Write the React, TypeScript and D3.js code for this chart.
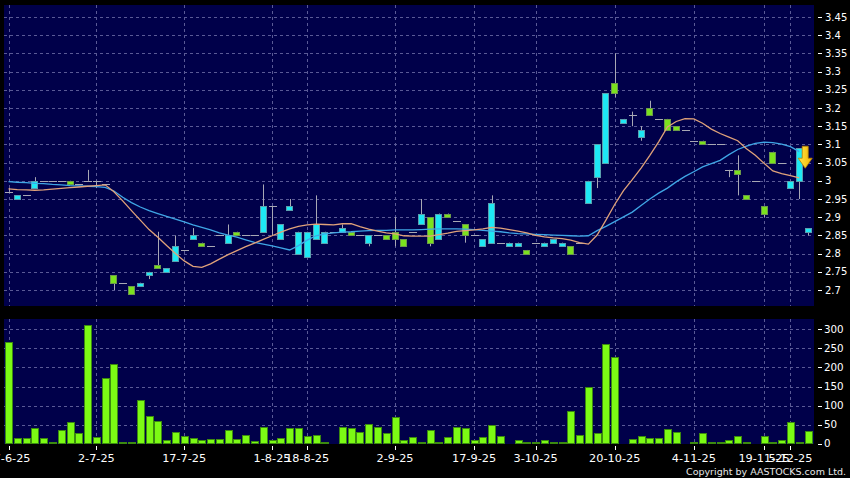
import React from 'react';
import * as d3 from 'd3';

// ---- data ----
const tickLabels = ["17-6-25", "2-7-25", "17-7-25", "1-8-25", "18-8-25", "2-9-25", "17-9-25", "3-10-25", "20-10-25", "4-11-25", "19-11-25", "5-12-25"];
const tickIndex = [1, 11, 21, 31, 35, 45, 54, 61, 70, 79, 87, 90];
const priceTicks = [2.7, 2.75, 2.8, 2.85, 2.9, 2.95, 3.0, 3.05, 3.1, 3.15, 3.2, 3.25, 3.3, 3.35, 3.4, 3.45];
const priceTickLabels = ["2.7", "2.75", "2.8", "2.85", "2.9", "2.95", "3", "3.05", "3.1", "3.15", "3.2", "3.25", "3.3", "3.35", "3.4", "3.45"];
const volumeTicks = [0, 50, 100, 150, 200, 250, 300];

const opens = [
  2.97, 2.95, 2.96, 2.98, 3.00, 3.00, 3.00, 3.00, 2.99, 3.00,
  3.00, 2.99, 2.74, 2.72, 2.71, 2.71, 2.74, 2.77, 2.75, 2.78,
  2.81, 2.84, 2.83, 2.82, 2.85, 2.83, 2.86, 2.85, 2.85, 2.86,
  2.93, 2.84, 2.92, 2.80, 2.79, 2.84, 2.83, 2.86, 2.86, 2.86,
  2.85, 2.83, 2.85, 2.85, 2.86, 2.84, 2.86, 2.88, 2.90, 2.84,
  2.91, 2.89, 2.88, 2.85, 2.82, 2.83, 2.83, 2.82, 2.82, 2.81,
  2.83, 2.82, 2.83, 2.82, 2.82, 2.83, 2.94, 3.01, 3.05, 3.27,
  3.16, 3.18, 3.12, 3.20, 3.17, 3.17, 3.15, 3.14, 3.11, 3.11,
  3.10, 3.10, 3.03, 3.03, 2.96, 3.00, 2.93, 3.08, 3.05, 2.98,
  3.00, 2.86];
const highs = [
  2.98, 2.96, 2.96, 3.01, 3.00, 3.00, 3.00, 3.00, 2.99, 3.03,
  3.00, 2.99, 2.74, 2.72, 2.71, 2.72, 2.75, 2.86, 2.76, 2.85,
  2.81, 2.87, 2.83, 2.82, 2.85, 2.88, 2.86, 2.85, 2.85, 2.99,
  2.93, 2.88, 2.95, 2.86, 2.86, 2.96, 2.86, 2.86, 2.88, 2.86,
  2.85, 2.85, 2.85, 2.85, 2.90, 2.84, 2.86, 2.95, 2.90, 2.91,
  2.91, 2.89, 2.88, 2.85, 2.84, 2.96, 2.83, 2.83, 2.83, 2.81,
  2.83, 2.83, 2.84, 2.83, 2.82, 2.83, 3.00, 3.10, 3.24, 3.35,
  3.17, 3.19, 3.15, 3.22, 3.17, 3.17, 3.15, 3.14, 3.11, 3.11,
  3.10, 3.10, 3.03, 3.07, 2.96, 3.00, 2.93, 3.08, 3.05, 3.00,
  3.09, 2.87];
const lows = [
  2.97, 2.95, 2.96, 2.98, 3.00, 3.00, 3.00, 2.99, 2.99, 3.00,
  2.98, 2.99, 2.70, 2.72, 2.69, 2.71, 2.73, 2.76, 2.75, 2.78,
  2.81, 2.84, 2.82, 2.82, 2.85, 2.83, 2.85, 2.85, 2.85, 2.86,
  2.85, 2.84, 2.92, 2.80, 2.79, 2.84, 2.83, 2.86, 2.86, 2.85,
  2.85, 2.82, 2.85, 2.84, 2.82, 2.82, 2.86, 2.88, 2.82, 2.84,
  2.90, 2.89, 2.83, 2.85, 2.82, 2.83, 2.83, 2.82, 2.82, 2.80,
  2.83, 2.82, 2.83, 2.82, 2.80, 2.83, 2.94, 2.98, 3.05, 3.23,
  3.16, 3.15, 3.11, 3.18, 3.17, 3.14, 3.14, 3.14, 3.11, 3.10,
  3.10, 3.10, 3.01, 2.96, 2.95, 3.00, 2.90, 3.05, 3.05, 2.98,
  2.95, 2.85];
const closes = [
  2.97, 2.96, 2.96, 3.00, 3.00, 3.00, 3.00, 2.99, 2.99, 3.00,
  3.00, 2.99, 2.72, 2.72, 2.69, 2.72, 2.75, 2.76, 2.76, 2.82,
  2.81, 2.85, 2.82, 2.82, 2.85, 2.85, 2.85, 2.85, 2.85, 2.93,
  2.93, 2.88, 2.93, 2.86, 2.86, 2.88, 2.86, 2.86, 2.87, 2.85,
  2.85, 2.85, 2.85, 2.84, 2.84, 2.82, 2.86, 2.91, 2.83, 2.91,
  2.90, 2.89, 2.85, 2.85, 2.84, 2.94, 2.83, 2.83, 2.83, 2.80,
  2.83, 2.83, 2.84, 2.83, 2.80, 2.83, 3.00, 3.10, 3.24, 3.24,
  3.17, 3.18, 3.14, 3.18, 3.17, 3.14, 3.14, 3.14, 3.11, 3.10,
  3.10, 3.10, 3.03, 3.02, 2.95, 3.00, 2.91, 3.05, 3.05, 3.00,
  3.09, 2.87];
const volumes = [
  268, 14, 14, 40, 14, 1, 35, 56, 27, 311,
  18, 173, 208, 2, 3, 115, 73, 59, 11, 31,
  21, 15, 9, 12, 12, 35, 12, 24, 6, 45,
  10, 14, 42, 40, 20, 22, 3, 0, 45, 40,
  31, 52, 44, 29, 70, 9, 18, 4, 37, 2,
  17, 44, 40, 9, 18, 48, 19, 0, 10, 5,
  1, 9, 3, 5, 85, 24, 150, 28, 262, 227,
  0, 13, 19, 14, 14, 39, 31, 0, 1, 27,
  2, 1, 11, 21, 2, 0, 21, 1, 11, 57,
  4, 34];
const maShort = [
  2.978, 2.976, 2.975, 2.974, 2.975, 2.977, 2.979, 2.981, 2.983, 2.985,
  2.987, 2.989, 2.970, 2.945, 2.918, 2.892, 2.866, 2.845, 2.822, 2.800,
  2.780, 2.765, 2.762, 2.772, 2.785, 2.797, 2.808, 2.819, 2.829, 2.839,
  2.849, 2.859, 2.868, 2.875, 2.879, 2.881, 2.880, 2.879, 2.882, 2.882,
  2.874, 2.867, 2.862, 2.857, 2.854, 2.849, 2.848, 2.848, 2.848, 2.852,
  2.856, 2.861, 2.863, 2.865, 2.868, 2.872, 2.870, 2.866, 2.862, 2.857,
  2.850, 2.846, 2.843, 2.841, 2.837, 2.830, 2.826, 2.851, 2.892, 2.935,
  2.973, 3.003, 3.035, 3.070, 3.107, 3.148, 3.163, 3.171, 3.170, 3.158,
  3.142, 3.130, 3.120, 3.110, 3.088, 3.070, 3.048, 3.027, 3.020, 3.014,
  3.008];
const maLong = [
  2.998, 2.996, 2.995, 2.993, 2.992, 2.990, 2.989, 2.987, 2.986, 2.985,
  2.984, 2.982, 2.972, 2.955, 2.940, 2.928, 2.918, 2.910, 2.902, 2.895,
  2.887, 2.879, 2.872, 2.865, 2.857, 2.851, 2.845, 2.838, 2.831, 2.826,
  2.821, 2.816, 2.810, 2.822, 2.837, 2.849, 2.854, 2.857, 2.859, 2.860,
  2.862, 2.863, 2.864, 2.864, 2.865, 2.865, 2.865, 2.866, 2.867, 2.868,
  2.868, 2.868, 2.867, 2.866, 2.864, 2.862, 2.860, 2.857, 2.855, 2.854,
  2.853, 2.852, 2.851, 2.850, 2.849, 2.848, 2.849, 2.863, 2.875, 2.888,
  2.901, 2.914, 2.932, 2.950, 2.966, 2.980, 2.997, 3.012, 3.025, 3.038,
  3.047, 3.056, 3.072, 3.086, 3.095, 3.103, 3.106, 3.105, 3.101, 3.094,
  3.080];

const N = closes.length;

export default function App() {
  const W = 850, H = 478;
  const L = 4, R = 814;
  const mainTop = 5, mainBot = 306;
  const volTop = 319, volBot = 444;

  const x = d3.scaleLinear().domain([1, N]).range([8.5, 808]);
  const yP = d3.scaleLinear().domain([2.7, 3.45]).range([290, 17]);
  const yV = d3.scaleLinear().domain([0, 300]).range([443.7, 329.3]);

  const gridColor = '#5a5a96';
  const font = '"DejaVu Sans", Verdana, sans-serif';
  const snap = (v: number) => Math.round(v) + 0.5;

  const idx = d3.range(1, N + 1);

  const shortLine = d3.line<number>().x((d, i) => x(i + 1)).y(d => yP(d)).curve(d3.curveLinear);
  const longLine = d3.line<number>().x((d, i) => x(i + 1)).y(d => yP(d)).curve(d3.curveLinear);

  const arrowCx = x(91) + 6;
  const arrowTop = yP(3.095);

  return (
    <svg width={W} height={H} style={{ position: 'absolute', left: 0, top: 0, display: 'block' }}>
      <defs>
        <linearGradient id="arrowGrad" x1="0" y1="0" x2="1" y2="0">
          <stop offset="0" stopColor="#ffe94a" />
          <stop offset="1" stopColor="#f2b400" />
        </linearGradient>
        <clipPath id="mainClip"><rect x={L} y={mainTop} width={R - L} height={mainBot - mainTop} /></clipPath>
      </defs>
      <rect x={0} y={0} width={W} height={H} fill="#000000" />
      {/* panels */}
      <rect x={L} y={mainTop} width={R - L} height={mainBot - mainTop} fill="#00004a" />
      <rect x={L} y={volTop} width={R - L} height={volBot - volTop} fill="#00004a" />

      {/* main grid */}
      {priceTicks.map((p, i) => (
        <line key={'pg' + i} x1={L} x2={R} y1={snap(yP(p))} y2={snap(yP(p))} stroke={gridColor} strokeDasharray="3,3" />
      ))}
      {tickIndex.map((t, i) => (
        <line key={'vg' + i} x1={snap(x(t))} x2={snap(x(t))} y1={mainTop} y2={mainBot} stroke={gridColor} strokeDasharray="3,3" />
      ))}
      {/* volume grid */}
      {volumeTicks.filter(v => v > 0).map((v, i) => (
        <line key={'vvg' + i} x1={L} x2={R} y1={snap(yV(v))} y2={snap(yV(v))} stroke={gridColor} strokeDasharray="3,3" />
      ))}
      {tickIndex.map((t, i) => (
        <line key={'vvx' + i} x1={snap(x(t))} x2={snap(x(t))} y1={volTop} y2={volBot} stroke={gridColor} strokeDasharray="3,3" />
      ))}

      {/* candles */}
      <g clipPath="url(#mainClip)">
        {idx.map(i => {
          const o = opens[i - 1], h = highs[i - 1], l = lows[i - 1], c = closes[i - 1];
          const cx = x(i);
          const left = Math.round(cx - 3.5) + 0.5;
          const wx = Math.round(cx) + 0.5;
          const wick = h > l ? (
            <line x1={wx} x2={wx} y1={yP(h)} y2={yP(l)} stroke="#a8a8b4" strokeWidth={1} />
          ) : null;
          if (o === c) {
            const yy = snap(yP(c));
            return (
              <g key={'c' + i}>
                {wick}
                <line x1={left - 0.5} x2={left + 7.5} y1={yy} y2={yy} stroke="#a8a8b4" strokeWidth={1} />
              </g>
            );
          }
          const up = c > o;
          const top = yP(Math.max(o, c));
          const bot = yP(Math.min(o, c));
          return (
            <g key={'c' + i}>
              {wick}
              <rect x={left} y={Math.round(top) + 0.5} width={6}
                height={Math.max(2, Math.round(bot) - Math.round(top))}
                fill={up ? '#1ee8f4' : '#7be21e'}
                stroke={up ? '#5a9fae' : '#6c9a4a'} strokeWidth={1} />
            </g>
          );
        })}
        {/* moving averages */}
        <path d={longLine(maLong) || ''} fill="none" stroke="#3fa6e6" strokeWidth={1.3} />
        <path d={shortLine(maShort) || ''} fill="none" stroke="#e0a27a" strokeWidth={1.3} />
        {/* marker arrow */}
        <path d={`M${arrowCx - 3},${arrowTop} L${arrowCx + 3},${arrowTop} L${arrowCx + 3},${arrowTop + 12} L${arrowCx + 7},${arrowTop + 12} L${arrowCx},${arrowTop + 22} L${arrowCx - 7},${arrowTop + 12} L${arrowCx - 3},${arrowTop + 12} Z`}
          fill="url(#arrowGrad)" stroke="#b88000" strokeWidth={0.8} />
      </g>

      {/* volume bars */}
      {idx.map(i => {
        const v = volumes[i - 1];
        const cx = x(i);
        const left = Math.round(cx - 3.5) + 0.5;
        const top = Math.round(yV(v)) + 0.5;
        const bot = Math.round(yV(0)) - 0.5;
        if (v <= 0) return null;
        return (
          <rect key={'v' + i} x={left} y={Math.min(top, bot - 1)} width={7} height={Math.max(1, bot - top)}
            fill="#7cfa14" stroke="#3c8a10" strokeWidth={1} />
        );
      })}

      {/* price axis */}
      {priceTicks.map((p, i) => (
        <g key={'pt' + i}>
          <line x1={818} x2={822} y1={snap(yP(p))} y2={snap(yP(p))} stroke="#ffffff" />
          <text x={825} y={yP(p)} dy="0.36em" fill="#ffffff" fontSize={10} fontFamily={font}>{priceTickLabels[i]}</text>
        </g>
      ))}
      {/* volume axis */}
      {volumeTicks.map((v, i) => (
        <g key={'vt' + i}>
          <line x1={818} x2={822} y1={snap(yV(v))} y2={snap(yV(v))} stroke="#ffffff" />
          <text x={824} y={yV(v)} dy="0.36em" fill="#ffffff" fontSize={10.3} fontFamily={font}>{v}</text>
        </g>
      ))}
      {/* x axis */}
      {tickIndex.map((t, i) => (
        <g key={'xt' + i}>
          <line x1={snap(x(t))} x2={snap(x(t))} y1={446} y2={450} stroke="#ffffff" />
          <text x={x(t)} y={462} textAnchor="middle" fill="#ffffff" fontSize={11.3} fontFamily={font}>{tickLabels[i]}</text>
        </g>
      ))}
      <text x={846} y={475} textAnchor="end" fill="#e8e8e8" fontSize={9.5} fontFamily={font}>Copyright by AASTOCKS.com Ltd.</text>
    </svg>
  );
}
